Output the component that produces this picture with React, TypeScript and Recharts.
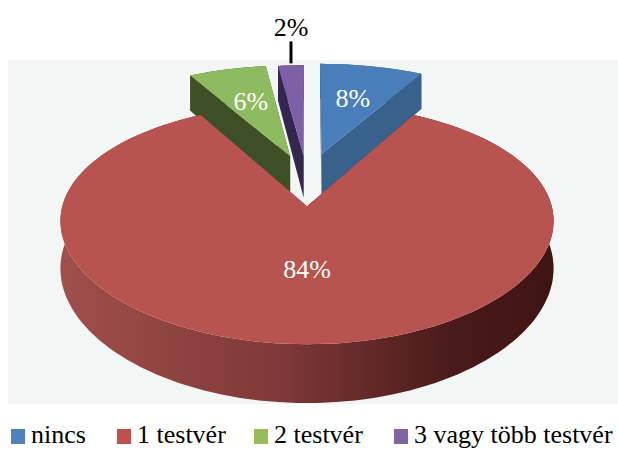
import { PieChart, Pie, Legend } from "recharts"

const categories = ["nincs", "1 testvér", "2 testvér", "3 vagy több testvér"]
const shares = [8, 84, 6, 2]
const topColors = ["#4a7ebb", "#b85450", "#8fbb60", "#7d60a8"]
const wallColors = ["#38618c", "url(#redWall)", "#3d4f24", "#33264f"]
const legendColors = ["#4f81bd", "#c0504d", "#9bbb59", "#8064a2"]
// back slices must be painted before the big red one
const drawOrder = [2, 3, 0, 1]

const SERIF = "'Liberation Serif', 'Times New Roman', serif"
const CX = 307
const CY = 180
const RADIUS = 238
const TILT = 0.462
const DEPTH = 44
const EXPLODE = [60, 55, 56, 54]
const LEGEND_X = [11, 117, 254, 394]

const chartData = drawOrder.map((i) => ({
  name: categories[i],
  value: shares[i],
  order: i,
}))

// fake 3d: perspective projection of a point on the tilted disk
function project(u: number, v: number, z: number) {
  const sx = 1 / (1 + 0.0005 * v)
  const sy = 1 / (1 + 0.0006 * v)
  return {
    x: CX + u * sx,
    y: CY - v * TILT * sy + z * DEPTH * Math.pow(sy, 1.5),
  }
}

function rimPoint(deg: number, r: number, mid: number, d: number, z: number) {
  const t = (deg * Math.PI) / 180
  const m = (mid * Math.PI) / 180
  return project(
    r * Math.sin(t) + d * Math.sin(m),
    r * Math.cos(t) + d * Math.cos(m),
    z
  )
}

function toPath(points: { x: number; y: number }[]) {
  return "M" + points.map((p) => `${p.x.toFixed(1)},${p.y.toFixed(1)}`).join("L") + "Z"
}

function Slice3D(props: any) {
  const { startAngle, endAngle, outerRadius, payload } = props
  const order = payload.order ?? props.order
  const a = 90 - startAngle
  const b = 90 - endAngle
  const mid = (a + b) / 2
  const d = EXPLODE[order]
  const steps = Math.max(4, Math.ceil((b - a) / 2))

  const top = []
  const bottom = []
  for (let i = 0; i <= steps; i++) {
    const deg = a + ((b - a) * i) / steps
    top.push(rimPoint(deg, outerRadius, mid, d, 0))
    bottom.push(rimPoint(deg, outerRadius, mid, d, 1))
  }
  const apexTop = rimPoint(0, 0, mid, d, 0)
  const apexBottom = rimPoint(0, 0, mid, d, 1)
  const wall = wallColors[order]

  return (
    <g>
      <path d={toPath([apexTop, top[0], bottom[0], apexBottom])} fill={wall} />
      <path d={toPath([apexTop, top[steps], bottom[steps], apexBottom])} fill={wall} />
      <path d={toPath([...top, ...bottom.slice().reverse()])} fill={wall} />
      <path d={toPath([apexTop, ...top])} fill={topColors[order]} />
    </g>
  )
}

function SliceLabel(props: any) {
  const { midAngle, outerRadius, payload } = props
  const order = payload.order ?? props.order
  const mid = 90 - midAngle
  const d = EXPLODE[order]
  const textStyle = { fontFamily: SERIF, fontSize: 26 }

  if (order === 3) {
    const foot = rimPoint(mid, outerRadius, mid, d, 0)
    return (
      <g>
        <line x1={foot.x} y1={foot.y - 2} x2={foot.x} y2={foot.y - 24} stroke="#000" strokeWidth={3} />
        <text x={foot.x} y={foot.y - 29} textAnchor="middle" fill="#000" style={textStyle}>
          {shares[order]}%
        </text>
      </g>
    )
  }
  const spot = rimPoint(mid, outerRadius * (order === 1 ? 0.5 : 0.6), mid, d, 0)
  return (
    <text x={spot.x} y={spot.y + 8} textAnchor="middle" fill="#fff" style={textStyle}>
      {shares[order]}%
    </text>
  )
}

function LegendRow() {
  return (
    <div style={{ position: "relative", width: 618, height: 24 }}>
      {categories.map((name, i) => (
        <div key={name} style={{ position: "absolute", left: LEGEND_X[i], top: 0, whiteSpace: "nowrap" }}>
          <span
            style={{
              position: "absolute",
              left: 0,
              top: 4,
              width: 14,
              height: 15,
              background: legendColors[i],
            }}
          />
          <span
            style={{
              position: "absolute",
              left: 20,
              top: -1,
              fontFamily: SERIF,
              fontSize: 26,
              lineHeight: "22px",
              color: "#000",
            }}
          >
            {name}
          </span>
        </div>
      ))}
    </div>
  )
}

export default function App() {
  return (
    <div style={{ position: "absolute", left: 0, top: 0, width: 618, height: 449, overflow: "hidden", background: "#fff" }}>
      <div style={{ position: "absolute", left: 8, top: 60, width: 610, height: 344, background: "#f4f6f6" }} />
      <PieChart width={618} height={449} margin={{ top: 0, right: 0, bottom: 0, left: 0 }} style={{ position: "absolute" }}>
        <defs>
          <linearGradient id="redWall" gradientUnits="userSpaceOnUse" x1="60" y1="0" x2="555" y2="0">
            <stop offset="0" stopColor="#a04f4c" />
            <stop offset="0.45" stopColor="#7e3837" />
            <stop offset="0.8" stopColor="#481a19" />
            <stop offset="1" stopColor="#3e1412" />
          </linearGradient>
        </defs>
        <Pie
          data={chartData}
          dataKey="value"
          nameKey="name"
          cx={CX}
          cy={CY}
          innerRadius={0}
          outerRadius={RADIUS}
          startAngle={-241.2}
          endAngle={-601.2}
          stroke="none"
          shape={Slice3D}
          label={SliceLabel}
          labelLine={false}
          isAnimationActive={false}
        />
        <Legend
          content={() => <LegendRow />}
          layout="horizontal"
          verticalAlign="bottom"
          wrapperStyle={{ left: 0, top: 425, width: 618, height: 24 }}
        />
      </PieChart>
    </div>
  )
}
